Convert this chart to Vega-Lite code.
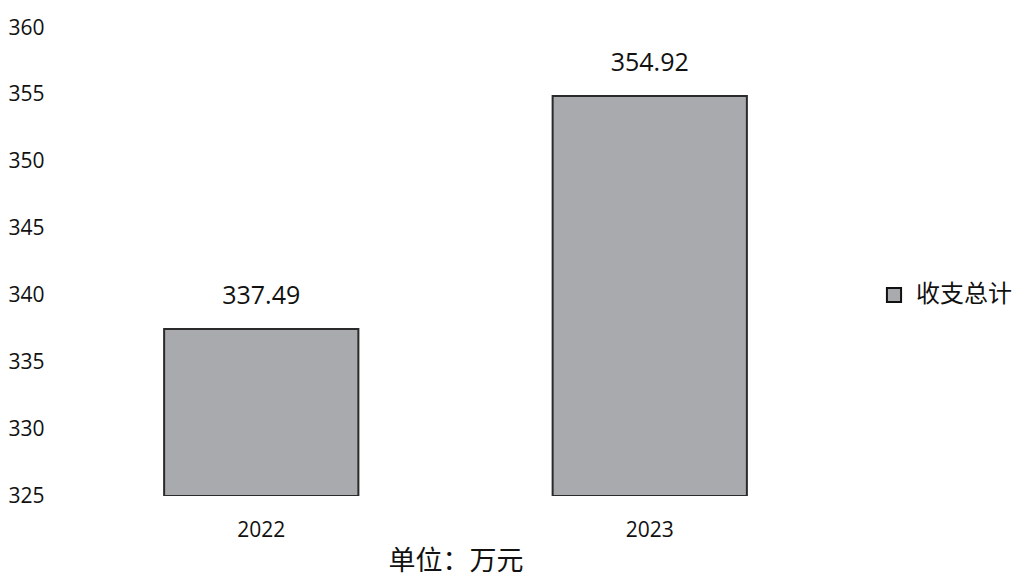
{
  "$schema": "https://vega.github.io/schema/vega-lite/v6.json",
  "width": 777,
  "height": 468,
  "autosize": {"type": "none"},
  "padding": {"left": 67, "top": 28, "right": 188, "bottom": 89},
  "background": "white",
  "config": {"view": {"stroke": null}, "font": "Open Sans"},
  "data": {"values": [
    {"year": "2022", "value": 337.49, "series": "收支总计"},
    {"year": "2023", "value": 354.92, "series": "收支总计"}
  ]},
  "encoding": {
    "x": {"field": "year", "type": "nominal",
      "scale": {"paddingInner": 0.5, "paddingOuter": 0.25},
      "axis": {"title": "单位：万元", "labelAngle": 0, "domain": false, "ticks": false,
        "labelFontSize": 21, "labelColor": "#111", "labelPadding": 23, "labelFont": "Open Sans",
        "titleFontSize": 27, "titleFontWeight": "normal", "titleColor": "#111", "titlePadding": 8, "titleFont": "Noto Sans CJK SC"}},
    "y": {"field": "value", "type": "quantitative",
      "scale": {"domain": [325, 360], "zero": false, "nice": false},
      "axis": {"title": null, "values": [325, 330, 335, 340, 345, 350, 355, 360], "domain": false, "ticks": false, "grid": false,
        "labelFontSize": 21, "labelColor": "#111", "labelPadding": 59, "labelAlign": "left", "labelFont": "Open Sans"}}
  },
  "layer": [
    {"mark": {"type": "bar", "stroke": "#2a2a2a", "strokeWidth": 2, "clip": true},
     "encoding": {
       "y2": {"datum": 325},
       "color": {"field": "series", "type": "nominal",
         "scale": {"range": ["#a9aaae"]},
         "legend": {"title": null, "orient": "none", "legendX": 815, "legendY": 255,
           "symbolType": "square", "symbolSize": 200, "symbolFillColor": "#555", "symbolStrokeColor": "#111", "symbolStrokeWidth": 2,
           "labelFontSize": 24, "labelColor": "#111", "labelFont": "Noto Sans CJK SC", "labelOffset": 10}}
     }},
    {"mark": {"type": "text", "dy": -20, "baseline": "bottom", "fontSize": 25, "color": "#111", "font": "Open Sans"},
     "encoding": {"text": {"field": "value", "type": "quantitative", "format": ".2f"}}}
  ]
}
